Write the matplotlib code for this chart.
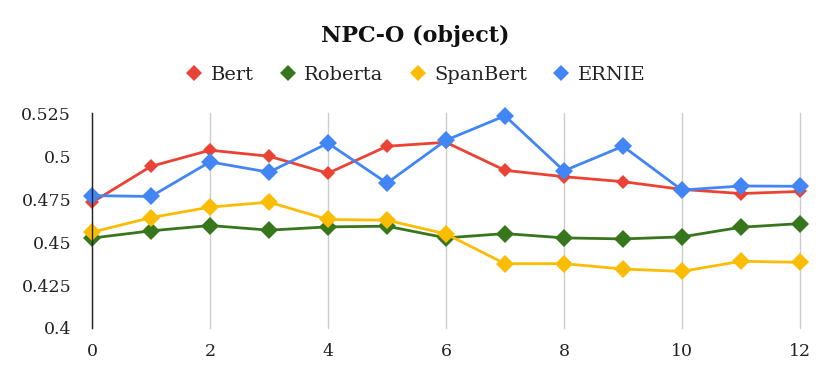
import matplotlib
matplotlib.use("Agg")
import matplotlib.pyplot as plt
from matplotlib.lines import Line2D

# layer index 0..12
layers = list(range(13))
bert = [0.473, 0.494, 0.5034, 0.4999, 0.490, 0.5057, 0.508, 0.4917, 0.488, 0.4851, 0.4806, 0.4782, 0.4794]
roberta = [0.4523, 0.4565, 0.4596, 0.4569, 0.4588, 0.4592, 0.4524, 0.4549, 0.4524, 0.4518, 0.453, 0.4586, 0.4607]
spanbert = [0.4557, 0.4642, 0.4703, 0.4732, 0.4631, 0.4627, 0.4547, 0.4374, 0.4374, 0.4343, 0.4329, 0.4388, 0.4382]
ernie = [0.477, 0.4765, 0.4966, 0.4906, 0.5075, 0.4843, 0.5092, 0.5234, 0.4914, 0.5057, 0.4802, 0.4826, 0.4824]

series_names = ["Bert", "Roberta", "SpanBert", "ERNIE"]
y_ticks = [0.4, 0.425, 0.45, 0.475, 0.5, 0.525]
y_labels = ["0.4", "0.425", "0.45", "0.475", "0.5", "0.525"]
x_ticks = [0, 2, 4, 6, 8, 10, 12]

colors = ["#ea4335", "#38761d", "#fbbc04", "#4285f4"]
msizes = [7, 9, 9, 9]

plt.rcParams["font.family"] = ["DejaVu Serif"]

fig = plt.figure(figsize=(8.3, 3.82), dpi=100)
ax = fig.add_axes([0.1108, 0.1414, 0.853, 0.5626])

for vals, c, ms in zip([bert, roberta, spanbert, ernie], colors, msizes):
    ax.plot(layers, vals, color=c, linewidth=2, marker="D", markersize=ms,
            markeredgewidth=0, clip_on=False)

ax.set_xlim(0, 12)
ax.set_ylim(0.4, 0.525)
ax.set_xticks(x_ticks)
ax.set_yticks(y_ticks)
ax.set_yticklabels(y_labels)
ax.tick_params(length=0, labelsize=12.5, colors="#222222")
ax.tick_params(axis="x", pad=11)
ax.tick_params(axis="y", pad=15)
ax.grid(axis="x", color="#cccccc", linewidth=1, clip_on=False)
ax.set_axisbelow(True)
for s in ["top", "right", "bottom"]:
    ax.spines[s].set_visible(False)
ax.spines["left"].set_color("#222222")
ax.spines["left"].set_linewidth(1)

fig.text(0.5, 0.905, "NPC-O (object)", ha="center", va="center",
         fontsize=16, fontweight="bold", color="#111111")

handles = [Line2D([], [], color=c, marker="D", linestyle="none", markersize=8,
                  markeredgewidth=0) for c in colors]
fig.legend(handles, series_names, loc="center", bbox_to_anchor=(0.5, 0.803),
           ncol=4, frameon=False, fontsize=14, handletextpad=0.35,
           columnspacing=1.25, handlelength=1.0, labelcolor="#222222")

fig.savefig("out.png", dpi=100)
